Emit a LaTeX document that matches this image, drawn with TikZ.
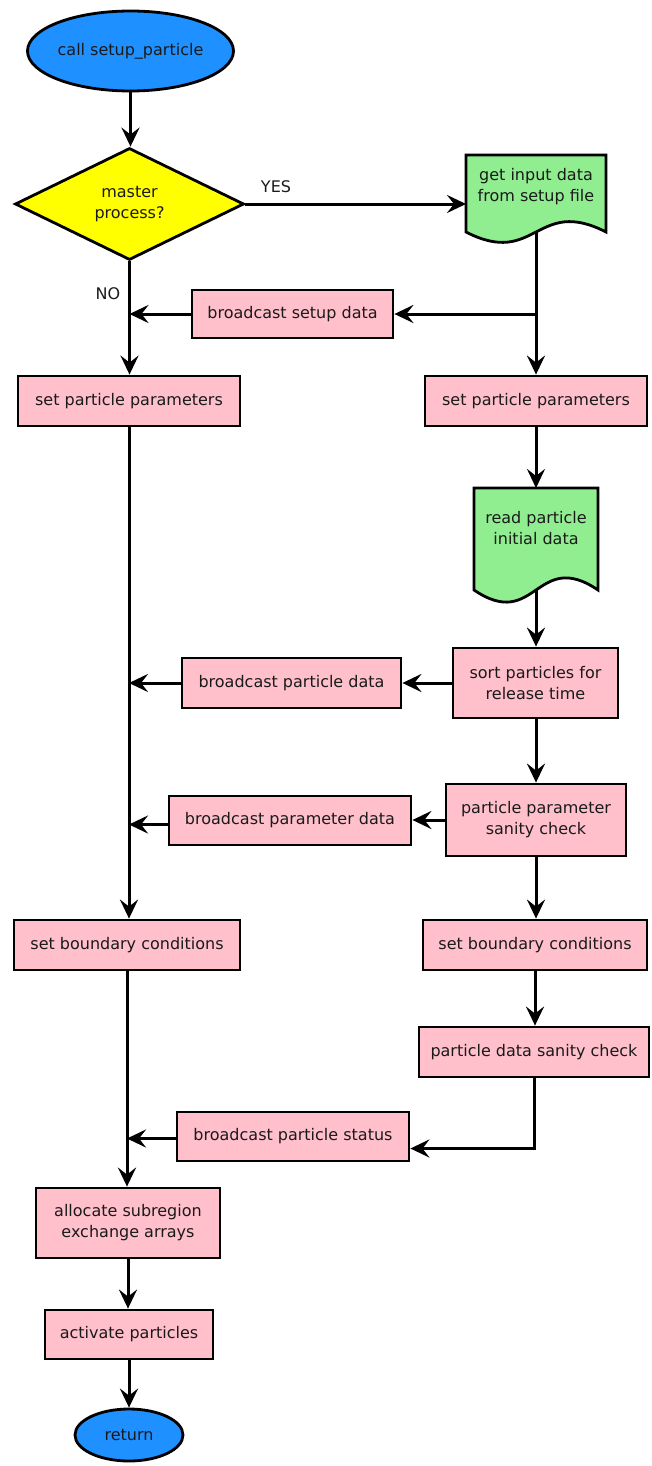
\documentclass[tikz,border=0pt]{standalone}
\usepackage{fontspec}
\setmainfont{DejaVu Sans}
\usetikzlibrary{arrows.meta,shapes.geometric,backgrounds,calc}
\definecolor{cblue}{HTML}{1E90FF}
\definecolor{cyellow}{HTML}{FFFF00}
\definecolor{cgreen}{HTML}{90EE90}
\definecolor{cpink}{HTML}{FFC0CB}
\definecolor{txt}{HTML}{1A1A1A}
\newcommand\flowfont{\fontsize{16}{21}\selectfont}
\tikzset{
  basebox/.style={line width=2.8pt, draw=black, inner sep=0pt, align=center, font=\flowfont, text=txt},
  procbox/.style={basebox, rectangle, fill=cpink},
  termbox/.style={basebox, ellipse, fill=cblue},
  decisionbox/.style={basebox, diamond, fill=cyellow},
  docnode/.style={rectangle, inner sep=0pt, outer sep=0pt},
  docshape/.style={line width=2.8pt, draw=black, fill=cgreen},
  conn/.style={line width=3pt, -{Stealth[length=19pt,width=18pt,inset=7pt]}},
  lbl/.style={font=\flowfont, text=txt, inner sep=0pt, align=center}
}
\begin{document}
\begin{tikzpicture}[x=1pt,y=-1pt]
\useasboundingbox (0,0) rectangle (651,1466);

% nodes
\node[termbox, minimum width=187, minimum height=80] (start) at (130.5,51) {call setup\_particle};
\node[decisionbox, minimum width=229, minimum height=112] (dec) at (129.5,204) {master\\process?};
\node[docnode, minimum width=140, minimum height=77] (d1) at (536,193.5) {};
\node[procbox, minimum width=201, minimum height=48] (bsd) at (292.5,314) {broadcast setup data};
\node[procbox, minimum width=222, minimum height=50] (spL) at (129,401) {set particle parameters};
\node[procbox, minimum width=222, minimum height=50] (spR) at (536,401) {set particle parameters};
\node[docnode, minimum width=124, minimum height=102] (d2) at (536,539) {};
\node[procbox, minimum width=165, minimum height=70] (sort) at (535.5,683) {sort particles for\\release time};
\node[procbox, minimum width=219, minimum height=50] (bpd) at (291.5,683) {broadcast particle data};
\node[procbox, minimum width=180, minimum height=72] (ppsc) at (536,820) {particle parameter\\sanity check};
\node[procbox, minimum width=242, minimum height=49] (bpard) at (290,820.5) {broadcast parameter data};
\node[procbox, minimum width=224, minimum height=50] (sbcR) at (535,945) {set boundary conditions};
\node[procbox, minimum width=230, minimum height=50] (pdsc) at (534,1052) {particle data sanity check};
\node[procbox, minimum width=232, minimum height=49] (bps) at (293,1136.5) {broadcast particle status};
\node[procbox, minimum width=226, minimum height=50] (sbcL) at (127,945) {set boundary conditions};
\node[procbox, minimum width=184, minimum height=70] (alloc) at (128,1223) {allocate subregion\\exchange arrays};
\node[procbox, minimum width=168, minimum height=49] (act) at (129,1334.5) {activate particles};
\node[termbox, minimum width=108, minimum height=52] (ret) at (129,1435) {return};

\node[lbl] (yes) at (276,187) {YES};
\node[lbl] (no) at (108,294) {NO};

% document shapes
\begin{scope}[on background layer]
\draw[docshape] (d1.north west) -- (d1.south west)
  .. controls ($(d1.south)+(0,36)$) and ($(d1.south)+(0,-36)$) .. (d1.south east)
  -- (d1.north east) -- cycle;
\draw[docshape] (d2.north west) -- (d2.south west)
  .. controls ($(d2.south)+(0,42)$) and ($(d2.south)+(0,-42)$) .. (d2.south east)
  -- (d2.north east) -- cycle;
\end{scope}
\node[lbl] (d1text) at (536,187) {get input data\\from setup file};
\node[lbl] (d2text) at (536,528) {read particle\\initial data};

% connectors
\draw[conn] (start.south) -- (start.south |- dec.north);
\draw[conn] (dec.east) -- (dec.east -| d1.west);
\draw[conn] (d1.south) -- (d1.south |- spR.north);
\draw[conn] (d1.south |- bsd.east) -- (bsd.east);
\draw[conn] (bsd.west) -- (bsd.west -| dec.south);
\draw[conn] (dec.south) -- (dec.south |- spL.north);
\draw[conn] (spR.south) -- (d2.north);
\draw[conn] (d2.south) -- (d2.south |- sort.north);
\draw[conn] (sort.west) -- (sort.west -| bpd.east);
\draw[conn] (bpd.west) -- (bpd.west -| spL.south);
\draw[conn] (ppsc.north |- sort.south) -- (ppsc.north);
\draw[conn] (ppsc.west) -- (ppsc.west -| bpard.east);
\draw[conn] ($(bpard.west)+(0,4)$) -- ($(bpard.west -| spL.south)+(0,4)$);
\draw[conn] (ppsc.south) -- (ppsc.south |- sbcR.north);
\draw[conn] (sbcR.south) -- (sbcR.south |- pdsc.north);
\coordinate (pdscturn) at ($(pdsc.south |- bps.east)+(0,12)$);
\draw[conn] (pdsc.south) -- (pdscturn) -- ($(bps.east)+(0,12)$);
\draw[conn] ($(bps.west)+(0,2)$) -- ($(bps.west -| sbcL.south)+(0,2)$);
\draw[conn] (spL.south) -- (spL.south |- sbcL.north);
\draw[conn] (sbcL.south) -- (sbcL.south |- alloc.north);
\draw[conn] (alloc.south) -- (alloc.south |- act.north);
\draw[conn] (act.south) -- (act.south |- ret.north);
\end{tikzpicture}
\end{document}
